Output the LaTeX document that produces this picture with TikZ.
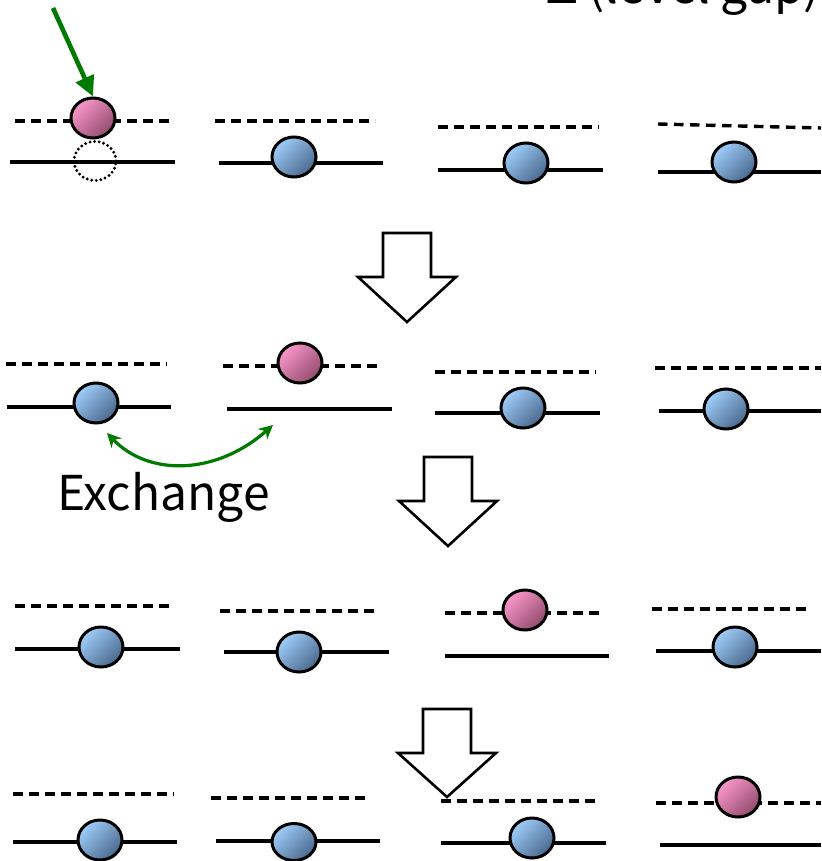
\documentclass[tikz,border=0pt]{standalone}
\usepackage{fontspec}
\setmainfont{Noto Sans CJK JP}
\usetikzlibrary{shapes.geometric,arrows.meta}
\definecolor{arrowgreen}{RGB}{0,122,0}
\definecolor{bluelight}{RGB}{158,206,250}
\definecolor{bluedark}{RGB}{74,104,140}
\definecolor{pinklight}{RGB}{250,150,202}
\definecolor{pinkdark}{RGB}{146,76,108}
\tikzset{
  ball/.style={ellipse, draw=black, line width=3pt, minimum width=44pt, minimum height=40pt, inner sep=0pt},
  blueball/.style={ball, shading=axis, top color=bluelight, bottom color=bluedark, shading angle=45},
  pinkball/.style={ball, shading=axis, top color=pinklight, bottom color=pinkdark, shading angle=45},
  ghost/.style={ellipse, draw=black, line width=3.2pt, dash pattern=on 0pt off 4.6pt, line cap=round, minimum width=42pt, minimum height=39pt, inner sep=0pt},
  upper/.style={line width=3.4pt, dash pattern=on 9.5pt off 6.5pt},
  lower/.style={line width=3.2pt},
  bigarrow/.style={draw=black, fill=white, line width=2.6pt, line join=miter},
  txt/.style={font=\fontsize{48}{54}\selectfont, inner sep=0pt}
}
\newcommand{\bigdown}[4]{% center x, top y, head y, tip y
  \path[bigarrow] (#1-24,#2) -- (#1+24,#2) -- (#1+24,#3) -- (#1+49,#3) -- (#1,#4) -- (#1-49,#3) -- (#1-24,#3) -- cycle;}
\begin{document}
\begin{tikzpicture}[x=1pt,y=-1pt]
\useasboundingbox (0,0) rectangle (821,861);
\clip (0,0) rectangle (821,861);
\fill[white] (0,0) rectangle (821,861);

% top label (cut off by the frame)
\node[txt, anchor=base west] (gap) at (546,4) {Δ (level gap)};

% ---------- row 1 ----------
\draw[upper] (15,121) -- (175,121);
\draw[lower] (10,162) -- (175,162);
\node[ghost] (g11) at (95,161) {};
\node[pinkball] (b11) at (93,118) {};
\draw[upper] (215,121) -- (375,121);
\draw[lower] (219,163) -- (383,163);
\node[blueball] (b12) at (294,157) {};
\draw[upper] (438,127) -- (599,127);
\draw[lower] (438,170) -- (603,170);
\node[blueball] (b13) at (526,163) {};
\draw[upper] (658,124) -- (821,128);
\draw[lower] (658,172) -- (821,172);
\node[blueball] (b14) at (734,162) {};
\coordinate (src) at (53,8);
\draw[arrowgreen, line width=4.6pt, -{Triangle[length=20pt,width=19pt]}] (src) -- (b11.north);

\bigdown{407}{233}{277}{322}

% ---------- row 2 ----------
\draw[upper] (6,364) -- (167,364);
\draw[lower] (7,407) -- (171,407);
\node[blueball] (b21) at (96,403) {};
\draw[upper] (223,366) -- (383,366);
\draw[lower] (227,409) -- (392,409);
\node[pinkball] (b22) at (300,363) {};
\draw[upper] (435,372) -- (596,372);
\draw[lower] (435,413) -- (600,413);
\node[blueball] (b23) at (523,408) {};
\draw[upper] (655,368) -- (821,368);
\draw[lower] (659,411) -- (821,411);
\node[blueball] (b24) at (726,409) {};
\coordinate (exA) at (107,433);
\coordinate (exB) at (273,425);
\draw[arrowgreen, line width=3.2pt, {Stealth[length=14pt,width=14pt]}-{Stealth[length=14pt,width=14pt]}]
  (exA) .. controls (148,476) and (215,476) .. (exB);
\node[txt, anchor=base west] (exch) at (57,510) {Exchange};

\bigdown{448}{457}{501}{546}

% ---------- row 3 ----------
\draw[upper] (15,606) -- (175,606);
\draw[lower] (15,649) -- (180,649);
\node[blueball] (b31) at (101,647) {};
\draw[upper] (220,611) -- (380,611);
\draw[lower] (224,652) -- (389,652);
\node[blueball] (b32) at (299,652) {};
\draw[upper] (445,613) -- (605,613);
\draw[lower] (445,656) -- (609,656);
\node[pinkball] (b33) at (525,610) {};
\draw[upper] (652,609) -- (812,609);
\draw[lower] (656,651) -- (821,651);
\node[blueball] (b34) at (735,647) {};

\bigdown{447}{709}{753}{797}

% ---------- row 4 ----------
\draw[upper] (13,794) -- (174,794);
\draw[lower] (13,842) -- (177,842);
\node[blueball] (b41) at (100,840) {};
\draw[upper] (211,798) -- (371,798);
\draw[lower] (216,841) -- (380,841);
\node[blueball, minimum height=37pt] (b42) at (294,842) {};
\draw[upper] (441,801) -- (601,801);
\draw[lower] (441,843) -- (606,843);
\node[blueball] (b43) at (532,838) {};
\draw[upper] (656,803) -- (821,803);
\draw[lower] (660,845) -- (821,845);
\node[pinkball] (b44) at (738,797) {};
\end{tikzpicture}
\end{document}
